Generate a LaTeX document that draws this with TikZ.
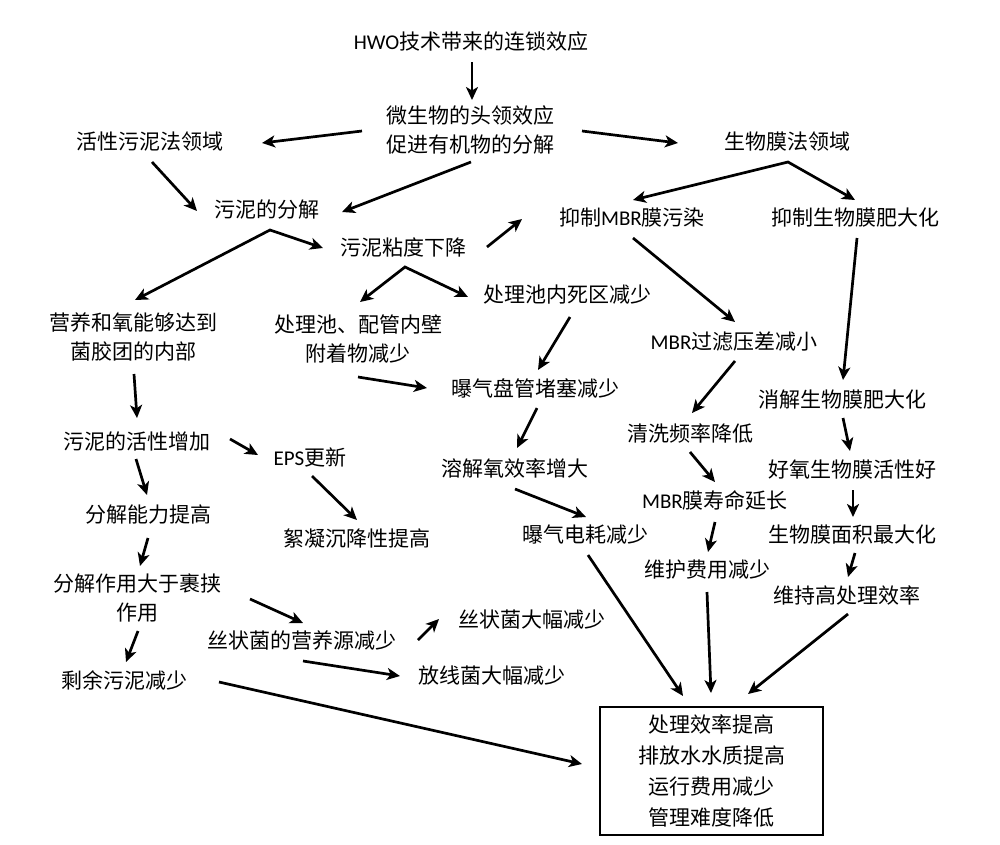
\documentclass[tikz,border=0pt]{standalone}
\usepackage{fontspec}
\setmainfont{Noto Sans CJK SC}
\newfontfamily\lat{Carlito}
\usetikzlibrary{arrows.meta}
\newcommand\myconn[6]{\draw[arr] ([shift={(#2,#3)}]#1.center) -- ([shift={(#5,#6)}]#4.center);}
\begin{document}
\begin{tikzpicture}[x=1pt,y=-1pt,
  lbl/.style={inner sep=0pt, align=center, font=\fontsize{21}{29}\selectfont},
  tip/.tip={Stealth[length=13pt,width=12pt,inset=3.5pt]},
  arr/.style={line width=2.7pt, -tip},
  arrtwo/.style={line width=2.7pt, tip-tip, line join=miter},
  boxst/.style={draw, line width=2.4pt, inner sep=0pt, align=center,
    minimum width=223pt, minimum height=128pt, font=\fontsize{21}{31}\selectfont}]
\useasboundingbox (0,0) rectangle (1000,844);
\fill[white] (0,0) rectangle (1000,844);

\node[lbl] (hwo) at (471,42) {{\lat HWO}技术带来的连锁效应};
\node[lbl] (mic) at (470,130) {微生物的头领效应\\促进有机物的分解};
\node[lbl] (act) at (150,142) {活性污泥法领域};
\node[lbl] (bio) at (787,142) {生物膜法领域};
\node[lbl] (dec) at (267,210) {污泥的分解};
\node[lbl] (vis) at (403,247) {污泥粘度下降};
\node[lbl] (mbr) at (632,218) {抑制{\lat MBR}膜污染};
\node[lbl] (sup) at (855,218) {抑制生物膜肥大化};
\node[lbl] (nut) at (133,337) {营养和氧能够达到\\菌胶团的内部};
\node[lbl] (wall) at (358,339) {处理池、配管内壁\\附着物减少};
\node[lbl] (dead) at (567,295) {处理池内死区减少};
\node[lbl] (tmp) at (734,342) {{\lat MBR}过滤压差减小};
\node[lbl] (aer) at (535,388) {曝气盘管堵塞减少};
\node[lbl] (dig) at (842,400) {消解生物膜肥大化};
\node[lbl] (wash) at (690,433) {清洗频率降低};
\node[lbl] (actinc) at (137,441) {污泥的活性增加};
\node[lbl] (eps) at (310,457) {{\lat EPS}更新};
\node[lbl] (do) at (515,468) {溶解氧效率增大};
\node[lbl] (aerob) at (852,470) {好氧生物膜活性好};
\node[lbl] (cap) at (148,515) {分解能力提高};
\node[lbl] (floc) at (357,538) {絮凝沉降性提高};
\node[lbl] (life) at (715,500) {{\lat MBR}膜寿命延长};
\node[lbl] (elec) at (585,535) {曝气电耗减少};
\node[lbl] (area) at (852,535) {生物膜面积最大化};
\node[lbl] (decx) at (137,598) {分解作用大于裹挟\\作用};
\node[lbl] (maint) at (707,570) {维护费用减少};
\node[lbl] (keep) at (847,595) {维持高处理效率};
\node[lbl] (fil) at (302,640) {丝状菌的营养源减少};
\node[lbl] (filred) at (532,620) {丝状菌大幅减少};
\node[lbl] (act2) at (492,676) {放线菌大幅减少};
\node[lbl] (sludge) at (124,680) {剩余污泥减少};
\node[boxst] (box) at (711.5,771) {处理效率提高\\排放水水质提高\\运行费用减少\\管理难度降低};

\myconn{hwo}{1}{20}{mic}{2}{-30}
\myconn{mic}{-108}{1}{act}{112}{1}
\myconn{mic}{112}{1}{bio}{-109}{1}
\myconn{act}{2}{20}{dec}{-70}{1}
\myconn{mic}{1}{32}{dec}{75}{2}
\draw[arrtwo] ([shift={(2,-37)}]nut.center) -- ([shift={(3,20)}]dec.center) -- ([shift={(-80,1)}]vis.center);
\myconn{vis}{84}{0}{mbr}{-110}{1}
\draw[arrtwo] ([shift={(2,-37)}]wall.center) -- ([shift={(2,20)}]vis.center) -- ([shift={(-99,2)}]dead.center);
\draw[arrtwo] ([shift={(1,-18)}]mbr.center) -- ([shift={(1,20)}]bio.center) -- ([shift={(0,-18)}]sup.center);
\myconn{mbr}{1}{20}{tmp}{1}{-20}
\myconn{sup}{2}{20}{dig}{1}{-20}
\myconn{dead}{3}{22}{aer}{3}{-18}
\myconn{wall}{0}{38}{aer}{-108}{0}
\myconn{tmp}{1}{19}{wash}{2}{-20}
\myconn{aer}{2}{20}{do}{2}{-20}
\myconn{dig}{1}{18}{aerob}{-2}{-19}
\myconn{wash}{0}{19}{life}{0}{-18}
\myconn{do}{0}{21}{elec}{1}{-18}
\myconn{aerob}{1}{20}{area}{1}{-18}
\myconn{nut}{1}{37}{actinc}{0}{-23}
\myconn{actinc}{93}{-2}{eps}{-52}{-2}
\myconn{eps}{2}{19}{floc}{0}{-18}
\myconn{actinc}{-1}{18}{cap}{-1}{-20}
\myconn{cap}{0}{23}{decx}{3}{-32}
\myconn{decx}{113}{1}{fil}{1}{-17}
\myconn{decx}{1}{33}{sludge}{2}{-18}
\myconn{fil}{116}{0}{filred}{-93}{-1}
\myconn{fil}{1}{21}{act2}{-92}{0}
\myconn{sludge}{95}{2}{box}{-129.5}{-7}
\myconn{elec}{3}{20}{box}{-28.5}{-75}
\myconn{maint}{0}{22}{box}{-0.5}{-78}
\myconn{keep}{1}{19}{box}{36.5}{-77}
\myconn{area}{3}{18}{keep}{1}{-18}
\myconn{life}{0}{22}{maint}{1}{-18}
\end{tikzpicture}
\end{document}
